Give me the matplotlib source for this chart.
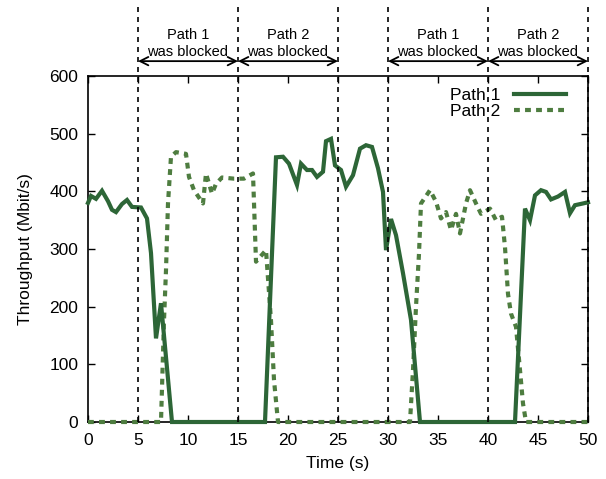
import matplotlib
matplotlib.use("Agg")
import matplotlib.pyplot as plt
import matplotlib.transforms as mtransforms

plt.rcParams['font.family'] = ['Liberation Sans', 'DejaVu Sans']

# Path 1 throughput (time s, Mbit/s)
p1_t = [0, 0.3, 0.8, 1.4, 2.0, 2.4, 2.8, 3.4, 3.9, 4.4, 5.3, 5.9, 6.3, 6.8, 7.3, 8.4,
        17.7, 18.8, 19.5, 20.1, 20.9, 21.3, 21.9, 22.4, 22.9, 23.5, 23.8, 24.3, 24.7,
        25.3, 25.8, 26.5, 27.2, 27.8, 28.4, 29.0, 29.5, 29.8, 30.3, 30.8, 31.5, 32.3,
        33.2, 42.7, 43.7, 44.2, 44.7, 45.3, 45.8, 46.3, 47.0, 47.7, 48.2, 48.7, 49.5, 50]
p1_v = [380, 392, 387, 401, 383, 368, 364, 378, 385, 373, 372, 353, 293, 145, 206, 0,
        0, 459, 460, 448, 411, 448, 437, 437, 425, 434, 487, 491, 445,
        437, 408, 428, 474, 480, 477, 440, 399, 298, 352, 324, 258, 177,
        0, 0, 370, 350, 393, 402, 399, 386, 391, 399, 362, 376, 379, 381]

# Path 2 throughput
p2_t = [0, 7.3, 7.6, 7.8, 8.0, 8.3, 8.8, 9.8, 10.1, 10.6, 11.5, 11.8, 12.4, 12.8, 13.4,
        14.6, 15.6, 16.5, 16.8, 17.8, 18.3, 18.6, 19.0, 32.2, 32.5, 32.8, 33.1, 33.3,
        34.2, 34.8, 35.3, 35.8, 36.3, 36.8, 37.2, 37.8, 38.2, 38.8, 39.3, 40.2, 40.8,
        41.4, 41.7, 42.0, 42.3, 42.8, 43.2, 43.5, 43.8, 50]
p2_v = [0, 0, 176, 263, 379, 460, 468, 465, 425, 402, 379, 431, 396, 413, 424,
        422, 422, 431, 278, 298, 176, 73, 0, 0, 90, 200, 292, 379,
        402, 382, 353, 364, 333, 361, 327, 379, 402, 379, 361, 370, 350,
        356, 303, 222, 188, 165, 90, 32, 0, 0]

boundaries = [5, 15, 25, 30, 40, 50]
periods = [(5, 15, "Path 1\nwas blocked"), (15, 25, "Path 2\nwas blocked"),
           (30, 40, "Path 1\nwas blocked"), (40, 50, "Path 2\nwas blocked")]
x_ticks = [0, 5, 10, 15, 20, 25, 30, 35, 40, 45, 50]
y_ticks = [0, 100, 200, 300, 400, 500, 600]

fig = plt.figure(figsize=(6.06, 4.79), dpi=100)
ax = fig.add_axes([0.1452, 0.119, 0.8251, 0.7223])

c1 = "#2d6637"
c2 = "#4e7d40"
ax.plot(p1_t, p1_v, color=c1, lw=3.0, solid_joinstyle='miter', label="Path 1",
        zorder=4, clip_on=False)
ax.plot(p2_t, p2_v, color=c2, lw=3.0, linestyle=(0, (1.4, 1.25)), label="Path 2",
        zorder=3, clip_on=False)

ax.set_xlim(0, 50)
ax.set_ylim(0, 600)
ax.set_xticks(x_ticks)
ax.set_yticks(y_ticks)
ax.tick_params(direction='in', top=True, right=True, length=5, width=1, labelsize=12.5)
ax.tick_params(axis='x', pad=8)
ax.tick_params(axis='y', pad=7)
for s in ax.spines.values():
    s.set_linewidth(1.2)
ax.set_xlabel("Time (s)", fontsize=12.5, labelpad=6)
ax.set_ylabel("Throughput (Mbit/s)", fontsize=12.5, labelpad=12)

trans = mtransforms.blended_transform_factory(ax.transData, ax.transAxes)
for b in boundaries:
    ax.plot([b, b], [0, 1.21], transform=trans, color='black', lw=1.2,
            linestyle=(0, (3, 3)), clip_on=False, zorder=5)

for a, b, txt in periods:
    ax.annotate("", xy=(a, 1.043), xytext=(b, 1.043), xycoords=trans, textcoords=trans,
                arrowprops=dict(arrowstyle='<->', color='black', lw=1.3,
                                shrinkA=0, shrinkB=0, mutation_scale=15),
                annotation_clip=False)
    ax.text((a + b) / 2, 1.094, txt, transform=trans, ha='center', va='center',
            fontsize=10.5, linespacing=1.28)

leg = ax.legend(loc='upper right', frameon=False, markerfirst=False, fontsize=12.5,
                handlelength=3.0, handletextpad=0.8, labelspacing=0.05,
                borderaxespad=0.3, bbox_to_anchor=(0.98, 1.0))
for t in leg.get_texts():
    t.set_ha('right')

fig.savefig("out.png", dpi=100)
